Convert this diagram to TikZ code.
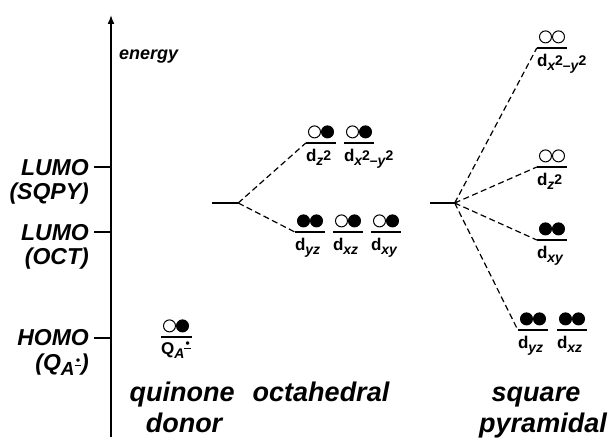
\documentclass[tikz,border=0pt]{standalone}
\usepackage{fontspec}
\usepackage{graphicx}
\setmainfont{Liberation Sans}
\usetikzlibrary{arrows.meta,positioning}
\newcommand{\sbs}[2][-4pt]{\raisebox{#1}{\fontsize{14}{14}\selectfont\itshape #2}}
\newcommand{\sqr}{\raisebox{5pt}{\upshape 2}}
\newcommand{\radan}[1]{\raisebox{#1}{\rlap{\kern1.2pt\raisebox{1.5pt}{\fontsize{12}{12}\selectfont\textbullet}}\rule{6.5pt}{1.2pt}}}
\begin{document}
\begin{tikzpicture}[x=1pt,y=-1pt,
  lbl/.style={font=\bfseries\itshape\fontsize{23}{24}\selectfont,align=right,inner sep=0,anchor=north east},
  ttl/.style={font=\bfseries\itshape\fontsize{27}{30}\selectfont,inner sep=0,anchor=base},
  lvl/.style={fill=black,minimum width=30pt,minimum height=2.8pt,inner sep=0},
  stem/.style={fill=black,minimum width=26pt,minimum height=2pt,inner sep=0},
  eo/.style={circle,draw,line width=1pt,minimum size=12pt,inner sep=0,anchor=south},
  ef/.style={eo,fill=black},
  orb/.style={font=\bfseries\fontsize{17}{17}\selectfont,inner sep=0,anchor=north west},
  split/.style={line width=1.2pt,dash pattern=on 6pt off 3.5pt}]
\useasboundingbox (0,0) rectangle (611,441);
% energy axis
\coordinate (ax0) at (111,437);
\coordinate (ax1) at (111,15);
\draw[line width=1.5pt,-{Latex[length=9pt,width=7pt]}] (ax0) -- (ax1);
\node[font=\bfseries\itshape\fontsize{18}{18}\selectfont,anchor=west,inner sep=0] (en) at (119,57) {energy};
\coordinate (tS) at (94,167);
\coordinate (tO) at (94,232);
\coordinate (tH) at (94,338);
\draw[line width=1.5pt] (tS) -- (tS -| ax0) (tO) -- (tO -| ax0) (tH) -- (tH -| ax0);
\node[lbl] (lS) at (89,159) {LUMO\\(SQPY)};
\node[lbl] (lO) at (89,224) {LUMO\\(OCT)};
\node[lbl] (lH) at (89,329) {HOMO};
\node[lbl] (lQ) at (89,354) {(Q\sbs[-5pt]{\fontsize{19}{19}\selectfont A}\radan{5pt})};
% quinone
\node[lvl,minimum width=31pt] (q) at (176,337) {};
\node[orb,anchor=north] (qn) at (176,342) {Q\sbs{A}\radan{5pt}};
% octahedral
\node[stem] (os) at (225,203) {};
\node[lvl] (oz) at (321,143) {};
\node[lvl] (ox) at (359,143) {};
\node[lvl] (oyz) at (310,232) {};
\node[lvl] (oxz) at (348,232) {};
\node[lvl] (oxy) at (386,232) {};
\draw[split] (os.east) -- (oz.west) (os.east) -- (oyz.west);
% square pyramidal
\node[stem,minimum width=25pt] (ss) at (442,203) {};
\node[lvl] (sx) at (552,48) {};
\node[lvl] (sz) at (552,167) {};
\node[lvl] (sxy) at (552,240) {};
\node[lvl] (syz) at (533,330) {};
\node[lvl] (sxz) at (572,330) {};
\draw[split] (ss.east) -- (sx.west) (ss.east) -- (sz.west) (ss.east) -- (sxy.west) (ss.east) -- (syz.west);
% electrons
\foreach \l/\a/\b in {q/eo/ef,oz/eo/ef,ox/eo/ef,oyz/ef/ef,oxz/eo/ef,oxy/eo/ef,sx/eo/eo,sz/eo/eo,sxy/ef/ef,syz/ef/ef,sxz/ef/ef}{
  \node[\a] (\l-a) at ([xshift=-6.5pt,yshift=3pt]\l.north) {};
  \node[\b] (\l-b) at ([xshift=6.5pt,yshift=3pt]\l.north) {};
}
% orbital labels
\node[orb,below right=4pt and 0pt of oz.south west] (noz) {d\sbs{z\sqr}};
\node[orb,below right=4pt and 0pt of ox.south west] (nox) {d\sbs{x\sqr--y\sqr}};
\node[orb,below right=4pt and 0pt of oyz.south west] (noyz) {d\sbs{yz}};
\node[orb,below right=4pt and 0pt of oxz.south west] (noxz) {d\sbs{xz}};
\node[orb,below right=4pt and 0pt of oxy.south west] (noxy) {d\sbs{xy}};
\node[orb,below right=4pt and 0pt of sx.south west] (nsx) {d\sbs{x\sqr--y\sqr}};
\node[orb,below right=4pt and 0pt of sz.south west] (nsz) {d\sbs{z\sqr}};
\node[orb,below right=4pt and 0pt of sxy.south west] (nsxy) {d\sbs{xy}};
\node[orb,below right=4pt and 0pt of syz.south west] (nsyz) {d\sbs{yz}};
\node[orb,below right=4pt and 0pt of sxz.south west] (nsxz) {d\sbs{xz}};
% titles
\node[ttl] (t1) at (182,401) {quinone};
\node[ttl] (t2) at (184,432) {donor};
\node[ttl] (t3) at (321,401) {octahedral};
\node[ttl] (t4) at (536,401) {square};
\node[ttl] (t5) at (543,432) {pyramidal};
\end{tikzpicture}
\end{document}
